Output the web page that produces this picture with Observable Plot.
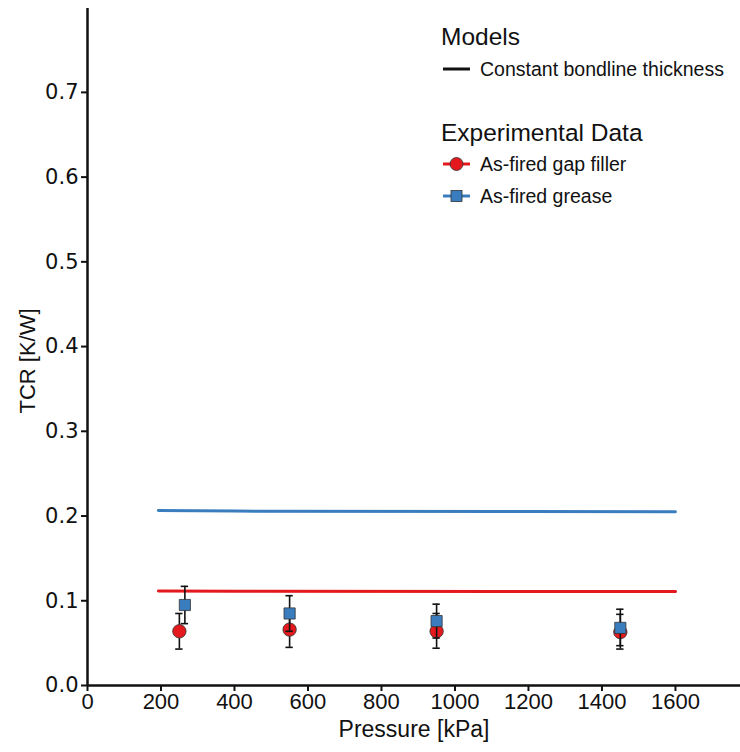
<!DOCTYPE html>
<html>
<head>
<meta charset="utf-8">
<script src="https://cdn.jsdelivr.net/npm/d3@7"></script>
<script src="https://cdn.jsdelivr.net/npm/@observablehq/plot@0.6"></script>
<style>
  html, body { margin: 0; padding: 0; background: #fff; }
  #wrap { position: relative; width: 740px; height: 752px; font-family: "Liberation Sans", Arial, sans-serif; color: #111; }
  .row { position: absolute; left: 441px; display: flex; align-items: center; white-space: nowrap; }
  .lt { font-size: 24.5px; height: 30px; }
  .li { font-size: 19.5px; height: 24px; }
  .li svg { margin-right: 6px; }
</style>
</head>
<body>
<div id="wrap"></div>
<script>
// ---- data ----
const xTicks = [0, 200, 400, 600, 800, 1000, 1200, 1400, 1600];
const yTicks = [0, 0.1, 0.2, 0.3, 0.4, 0.5, 0.6, 0.7];

// model lines (constant bondline thickness)
const modelPressure = [193, 400, 1200, 1600];
const modelGapFiller = [0.1115, 0.1112, 0.1110, 0.1108];
const modelGrease = [0.2066, 0.2058, 0.2054, 0.2050];

// experimental data
const gapPressure = [250, 550, 950, 1450];
const gapTCR = [0.064, 0.066, 0.064, 0.063];
const gapLow = [0.043, 0.045, 0.044, 0.043];
const gapHigh = [0.085, 0.087, 0.085, 0.084];

const greasePressure = [265, 550, 950, 1450];
const greaseTCR = [0.095, 0.085, 0.076, 0.068];
const greaseLow = [0.073, 0.064, 0.056, 0.047];
const greaseHigh = [0.117, 0.106, 0.096, 0.090];

const RED = "#e3191e";
const BLUE = "#3a7dbf";

const modelRed = modelPressure.map((p, i) => ({p, v: modelGapFiller[i]}));
const modelBlue = modelPressure.map((p, i) => ({p, v: modelGrease[i]}));
const gap = gapPressure.map((p, i) => ({p, v: gapTCR[i], lo: gapLow[i], hi: gapHigh[i]}));
const grease = greasePressure.map((p, i) => ({p, v: greaseTCR[i], lo: greaseLow[i], hi: greaseHigh[i]}));

const cap = 10; // half cap width in kPa

function errMarks(data) {
  return [
    Plot.ruleX(data, {x: "p", y1: "lo", y2: "hi", stroke: "#111", strokeWidth: 1.6}),
    Plot.ruleY(data, {y: "lo", x1: d => d.p - cap, x2: d => d.p + cap, stroke: "#111", strokeWidth: 1.6}),
    Plot.ruleY(data, {y: "hi", x1: d => d.p - cap, x2: d => d.p + cap, stroke: "#111", strokeWidth: 1.6})
  ];
}

const chart = Plot.plot({
  width: 740,
  height: 752,
  marginLeft: 87,
  marginRight: 0,
  marginTop: 8,
  marginBottom: 67,
  style: {fontFamily: "Liberation Sans, Arial, sans-serif", background: "#fff", color: "#111"},
  x: {domain: [0, 1777]},
  y: {domain: [0, 0.799]},
  marks: [
    Plot.axisX({ticks: xTicks, tickFormat: d3.format("d"), tickSize: 6, tickPadding: 2, fontSize: 22, label: null, strokeWidth: 2}),
    Plot.axisY({ticks: yTicks, tickFormat: d3.format(".1f"), tickSize: 6, tickPadding: 3, fontSize: 21, fontFamily: "DejaVu Sans, sans-serif", label: null, strokeWidth: 2}),
    Plot.ruleY([0], {stroke: "#111", strokeWidth: 2.5}),
    Plot.ruleX([0], {stroke: "#111", strokeWidth: 2.5}),
    Plot.line(modelBlue, {x: "p", y: "v", stroke: BLUE, strokeWidth: 3}),
    Plot.line(modelRed, {x: "p", y: "v", stroke: RED, strokeWidth: 3}),
    ...errMarks(gap),
    Plot.dot(gap, {x: "p", y: "v", r: 6.7, fill: RED, stroke: "#333", strokeWidth: 0.8, symbol: "circle"}),
    ...errMarks(grease),
    Plot.dot(grease, {x: "p", y: "v", r: 6.3, fill: BLUE, stroke: "#333", strokeWidth: 0.8, symbol: "square"}),
    Plot.text(["Pressure [kPa]"], {frameAnchor: "bottom", dy: 51, fontSize: 23}),
    Plot.text(["TCR [K/W]"], {frameAnchor: "left", textAnchor: "middle", dx: -60, dy: 14, rotate: -90, fontSize: 22})
  ]
});

const wrap = document.getElementById("wrap");
wrap.appendChild(chart);

const legendRows = [
  {cls: "lt", center: 37, html: "Models"},
  {cls: "li", center: 69, html: `<svg width="33" height="10"><line x1="2" x2="29" y1="5" y2="5" stroke="#111" stroke-width="3"/></svg>Constant bondline thickness`},
  {cls: "lt", center: 133, html: "Experimental Data"},
  {cls: "li", center: 164, html: `<svg width="33" height="16"><line x1="2" x2="29" y1="8" y2="8" stroke="${RED}" stroke-width="3"/><circle cx="15.5" cy="8" r="6.5" fill="${RED}" stroke="#333" stroke-width="0.8"/></svg>As-fired gap filler`},
  {cls: "li", center: 196, html: `<svg width="33" height="16"><line x1="2" x2="29" y1="8" y2="8" stroke="${BLUE}" stroke-width="3"/><rect x="10" y="2.5" width="11" height="11" fill="${BLUE}" stroke="#333" stroke-width="0.8"/></svg>As-fired grease`}
];
for (const r of legendRows) {
  const el = document.createElement("div");
  el.className = "row " + r.cls;
  const h = r.cls === "lt" ? 30 : 24;
  el.style.top = (r.center - h / 2) + "px";
  el.innerHTML = r.html;
  wrap.appendChild(el);
}
</script>
</body>
</html>
